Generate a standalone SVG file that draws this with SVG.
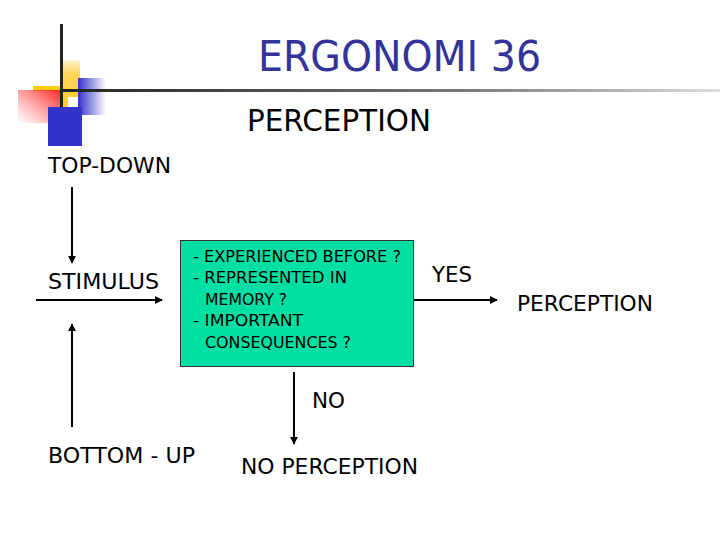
<svg xmlns="http://www.w3.org/2000/svg" width="720" height="540" viewBox="0 0 720 540">
<defs>
<linearGradient id="gYel" x1="0" y1="0" x2="1" y2="0"><stop offset="0" stop-color="#ffcc33"/><stop offset="1" stop-color="#ffcc33" stop-opacity="0"/></linearGradient>
<linearGradient id="gYel2" x1="0" y1="0" x2="0" y2="1"><stop offset="0" stop-color="#ffd966" stop-opacity="0.3"/><stop offset="0.3" stop-color="#ffd45a"/><stop offset="1" stop-color="#ffcc33"/></linearGradient>
<linearGradient id="gRed" x1="1" y1="0" x2="0" y2="1"><stop offset="0" stop-color="#ff2020"/><stop offset="1" stop-color="#ff6060" stop-opacity="0"/></linearGradient>
<linearGradient id="gBlue" x1="0" y1="0" x2="1" y2="0"><stop offset="0" stop-color="#3333cc"/><stop offset="1" stop-color="#3333cc" stop-opacity="0"/></linearGradient>
<linearGradient id="gLine" x1="0" y1="0" x2="1" y2="0"><stop offset="0" stop-color="#222"/><stop offset="0.6" stop-color="#777"/><stop offset="1" stop-color="#ddd"/></linearGradient>
<marker id="ah" viewBox="0 0 10 10" refX="9" refY="5" markerWidth="4" markerHeight="4" orient="auto" markerUnits="strokeWidth"><path d="M0,0 L10,5 L0,10 z" fill="#000"/></marker>
</defs>
<style>
.t{font-family:Tahoma,"DejaVu Sans","Liberation Sans",sans-serif;fill:#000}
.lbl{font-size:21px}
.box{font-size:16px}
.c{stroke:#000;stroke-width:2;fill:none;marker-end:url(#ah)}
</style>
<rect width="720" height="540" fill="#fff"/>
<g id="decoration">
<rect x="60" y="60" width="20" height="47" fill="url(#gYel2)"/>
<rect x="33" y="86" width="28" height="5" fill="#ffcc00"/>
<rect x="18" y="90" width="44" height="33" fill="url(#gRed)"/>
<rect x="78" y="78" width="28" height="37" fill="url(#gBlue)"/>
<rect x="48" y="107" width="34" height="39" fill="#3333cc"/>
<rect x="68" y="97" width="10" height="10" fill="#fff"/>
<rect x="60" y="24" width="3" height="83" fill="#222"/>
<rect x="60" y="89" width="660" height="3" fill="url(#gLine)"/>
</g>
<g id="title">
<text x="258" y="71" font-family="Tahoma,'DejaVu Sans','Liberation Sans',sans-serif" font-size="43" fill="#333399" textLength="283" lengthAdjust="spacingAndGlyphs">ERGONOMI 36</text>
</g>
<g id="subtitle"><text class="t" x="247" y="131" font-size="30" textLength="184" lengthAdjust="spacingAndGlyphs">PERCEPTION</text></g>
<g id="topdown"><text class="t lbl" x="48" y="173" textLength="123" lengthAdjust="spacingAndGlyphs">TOP-DOWN</text></g>
<g id="stimulus"><text class="t lbl" x="48" y="289" textLength="111" lengthAdjust="spacingAndGlyphs">STIMULUS</text></g>
<g id="bottomup"><text class="t lbl" x="48" y="463" textLength="147" lengthAdjust="spacingAndGlyphs">BOTTOM - UP</text></g>
<g id="question">
<rect x="180.5" y="240.5" width="233" height="126" fill="#00dfa3" stroke="#333" stroke-width="1"/>
<text class="t box" x="193" y="262" textLength="208" lengthAdjust="spacingAndGlyphs">- EXPERIENCED BEFORE ?</text>
<text class="t box" x="193" y="283" textLength="154" lengthAdjust="spacingAndGlyphs">- REPRESENTED IN</text>
<text class="t box" x="205" y="305" textLength="82" lengthAdjust="spacingAndGlyphs">MEMORY ?</text>
<text class="t box" x="193" y="326" textLength="110" lengthAdjust="spacingAndGlyphs">- IMPORTANT</text>
<text class="t box" x="205" y="348" textLength="146" lengthAdjust="spacingAndGlyphs">CONSEQUENCES ?</text>
</g>
<g id="yes"><text class="t lbl" x="432" y="282" textLength="40" lengthAdjust="spacingAndGlyphs">YES</text></g>
<g id="perception"><text class="t lbl" x="517" y="311" textLength="136" lengthAdjust="spacingAndGlyphs">PERCEPTION</text></g>
<g id="no"><text class="t lbl" x="312" y="408" textLength="33" lengthAdjust="spacingAndGlyphs">NO</text></g>
<g id="noperception"><text class="t lbl" x="241" y="474" textLength="177" lengthAdjust="spacingAndGlyphs">NO PERCEPTION</text></g>
<g id="connectors">
<line class="c" x1="72" y1="187" x2="72" y2="263"/>
<line class="c" x1="36" y1="300" x2="162" y2="300"/>
<line class="c" x1="72" y1="427" x2="72" y2="324"/>
<line class="c" x1="414" y1="300" x2="497" y2="300"/>
<line class="c" x1="294" y1="372" x2="294" y2="444"/>
</g>
</svg>
